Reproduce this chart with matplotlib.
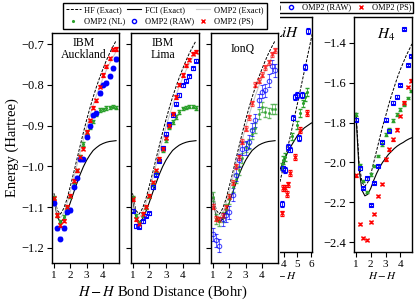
import matplotlib
matplotlib.use('Agg')
import matplotlib.pyplot as plt
from matplotlib.patches import Rectangle
from matplotlib.lines import Line2D

plt.rcParams['font.family'] = ['Liberation Serif']
plt.rcParams['mathtext.fontset'] = 'stix'

# ---- H2 (left three panels) ----
h2_r = [1.0, 1.2, 1.4, 1.6, 1.8, 2.0, 2.2, 2.4, 2.6, 2.8,
        3.0, 3.2, 3.4, 3.6, 3.8, 4.0, 4.2, 4.4, 4.6, 4.8]
h2_hf = [-1.066, -1.108, -1.117, -1.103, -1.080, -1.049, -1.017, -0.983, -0.950, -0.917,
         -0.886, -0.857, -0.830, -0.805, -0.782, -0.761, -0.741, -0.723, -0.707, -0.692]
h2_fci = [-1.078, -1.124, -1.137, -1.129, -1.111, -1.089, -1.065, -1.042, -1.020, -1.001,
          -0.985, -0.972, -0.961, -0.954, -0.948, -0.944, -0.941, -0.939, -0.938, -0.937]
h2_omp2 = [-1.072, -1.116, -1.126, -1.114, -1.092, -1.062, -1.031, -0.998, -0.966, -0.934,
           -0.904, -0.876, -0.850, -0.826, -0.804, -0.784, -0.765, -0.748, -0.733, -0.719]

auck_nl = [-1.077, -1.120, -1.136, -1.124, -1.100, -1.074, -1.045, -1.010, -0.975, -0.945,
           -0.918, -0.904, -0.890, -0.872, -0.862, -0.860, -0.857, -0.855, -0.854, -0.856]
auck_raw = [-1.090, -1.152, -1.177, -1.151, -1.111, -1.107, -1.050, -1.028, -0.983, -0.983,
            -0.927, -0.900, -0.875, -0.870, -0.820, -0.800, -0.795, -0.779, -0.760, -0.737]
auck_ps = [-1.078, -1.119, -1.144, -1.133, -1.099, -1.072, -1.035, -1.010, -0.977, -0.957,
           -0.916, -0.887, -0.856, -0.838, -0.805, -0.776, -0.755, -0.735, -0.713, -0.712]

lima_nl = [-1.077, -1.122, -1.137, -1.119, -1.100, -1.074, -1.045, -1.015, -0.985, -0.961,
           -0.936, -0.905, -0.891, -0.879, -0.867, -0.858, -0.856, -0.854, -0.854, -0.857]
lima_raw = [-1.109, -1.146, -1.148, -1.135, -1.121, -1.115, -1.051, -1.020, -0.986, -0.955,
            -0.920, -0.897, -0.875, -0.846, -0.825, -0.801, -0.790, -0.779, -0.760, -0.741]
lima_ps = [-1.080, -1.129, -1.141, -1.117, -1.099, -1.072, -1.039, -1.010, -0.982, -0.957,
           -0.930, -0.900, -0.871, -0.830, -0.800, -0.776, -0.752, -0.738, -0.724, -0.719]

ionq_nl = [-1.074, -1.130, -1.135, -1.125, -1.105, -1.080, -1.050, -1.030, -1.010, -0.980,
           -0.953, -0.945, -0.920, -0.905, -0.871, -0.855, -0.867, -0.870, -0.860, -0.860]
ionq_raw = [-1.166, -1.181, -1.195, -1.130, -1.120, -1.113, -1.070, -1.020, -0.985, -0.957,
            -0.955, -0.940, -0.910, -0.887, -0.838, -0.817, -0.813, -0.790, -0.755, -0.764]
ionq_ps = [-1.099, -1.128, -1.130, -1.121, -1.100, -1.075, -1.040, -1.000, -0.978, -0.940,
           -0.908, -0.880, -0.845, -0.800, -0.790, -0.775, -0.757, -0.745, -0.725, -0.715]
ionq_err = [0.006, 0.012, 0.016]  # PS, NL, RAW

# ---- LiH (partly hidden) ----
lih_r = [3.5, 4.0, 4.5, 5.0, 5.5, 6.0, 6.5]
lih_hf = [-7.889, -7.857, -7.825, -7.792, -7.758, -7.724, -7.690]
lih_fci = [-7.870, -7.852, -7.838, -7.826, -7.818, -7.813, -7.810]
lih_raw_r = [3.83, 3.95, 4.07, 4.32, 4.44, 4.69, 4.81, 4.94, 5.13, 5.31, 5.56, 5.80]
lih_raw = [-7.899, -7.861, -7.863, -7.838, -7.841, -7.807, -7.785, -7.783, -7.829, -7.783, -7.753, -7.715]
lih_nl_r = [3.83, 3.95, 4.07, 4.57, 4.94, 5.19, 5.43, 5.56, 5.68]
lih_nl = [-7.859, -7.852, -7.849, -7.827, -7.815, -7.802, -7.792, -7.785, -7.780]
lih_ps_r = [3.83, 3.95, 4.07, 4.20, 4.32, 4.44, 4.81, 5.19, 5.68]
lih_ps = [-7.909, -7.882, -7.882, -7.888, -7.878, -7.866, -7.849, -7.820, -7.802]

# ---- H4 ----
h4_r = [1.0, 1.2, 1.4, 1.6, 1.8, 2.0, 2.2, 2.4, 2.6, 2.8,
        3.0, 3.2, 3.4, 3.6, 3.8, 4.0, 4.2, 4.4, 4.6, 4.8]
h4_hf = [-1.75, -2.00, -2.10, -2.12, -2.10, -2.06, -2.00, -1.94, -1.88, -1.82,
         -1.77, -1.715, -1.665, -1.62, -1.575, -1.535, -1.50, -1.465, -1.435, -1.405]
h4_fci = [-1.77, -2.03, -2.14, -2.168, -2.16, -2.13, -2.09, -2.055, -2.025, -2.00,
          -1.98, -1.96, -1.945, -1.93, -1.918, -1.908, -1.90, -1.89, -1.882, -1.876]
h4_pts_r = [1.0, 1.25, 1.5, 1.75, 2.0, 2.25, 2.5, 2.75, 3.0, 3.25, 3.5, 3.75, 4.0, 4.25, 4.5, 4.75]
h4_nl = [-1.76, -2.015, -2.093, -2.15, -2.06, -2.018, -1.968, -1.91, -1.86, -1.835,
         -1.79, -1.76, -1.735, -1.71, -1.677, -1.643]
h4_raw = [-1.785, -2.03, -2.13, -2.08, -2.215, -2.105, -2.018, -1.90, -1.785, -1.843,
          -1.70, -1.67, -1.61, -1.331, -1.51, -1.465]
h4_ps = [-2.065, -2.31, -2.38, -2.39, -2.30, -2.26, -2.168, -2.11, -1.985, -1.935,
         -1.885, -1.835, -1.768, -1.70, -1.62, -1.589]

RED = '#ff0000'
BLUE = '#0000ff'
GREEN = '#2ca02c'
W, H = 415, 304


def fpos(x0, x1, y0, y1):
    return [x0 / W, 1 - y1 / H, (x1 - x0) / W, (y1 - y0) / H]


def style(ax, ylab=True, xsize=8, ysize=9):
    ax.tick_params(direction='out', length=3.5, width=0.8, top=False, right=False)
    ax.tick_params(axis='x', labelsize=xsize, pad=2)
    ax.tick_params(axis='y', labelsize=ysize, pad=2, labelleft=ylab)
    for s in ax.spines.values():
        s.set_linewidth(1.0)


def curves(ax, r, hf, fci, omp=None):
    ax.plot(r, hf, color='black', ls=(0, (3, 1.5)), lw=0.7, zorder=1)
    ax.plot(r, fci, color='black', ls='-', lw=0.8, zorder=1)
    if omp is not None:
        ax.plot(r, omp, color='#c8c8c8', ls='-', lw=0.8, zorder=1)


fig = plt.figure(figsize=(4.15, 3.04), dpi=100)

# right-hand figure (partly covered)
ax_lih = fig.add_axes(fpos(254, 312, 17, 252), zorder=0)
ax_h4 = fig.add_axes(fpos(354, 412, 17, 252), zorder=0)

curves(ax_lih, lih_r, lih_hf, lih_fci)
ax_lih.errorbar(lih_nl_r, lih_nl, yerr=0.004, fmt='.', color=GREEN, ms=2.5, capsize=1.5, elinewidth=0.6)
ax_lih.errorbar(lih_raw_r, lih_raw, yerr=0.003, fmt='s', color=BLUE, mfc='none', ms=3, mew=0.8, capsize=1.2, elinewidth=0.6)
ax_lih.errorbar(lih_ps_r, lih_ps, yerr=0.003, fmt='x', color=RED, ms=3, mew=0.9, capsize=1.2, elinewidth=0.6)
ax_lih.set_xlim(1.8, 6.07)
ax_lih.set_ylim(-7.95, -7.70)
ax_lih.set_xticks([2, 3, 4, 5, 6])
ax_lih.set_xlabel('$H-H$', fontsize=8, labelpad=1)
ax_lih.text(0.55, 0.96, '$LiH$', transform=ax_lih.transAxes, ha='center', va='top', fontsize=11)
style(ax_lih, xsize=8)

curves(ax_h4, h4_r, h4_hf, h4_fci)
ax_h4.errorbar(h4_pts_r, h4_nl, yerr=0.006, fmt='.', color=GREEN, ms=2.5, capsize=1.5, elinewidth=0.6)
ax_h4.errorbar(h4_pts_r, h4_raw, yerr=0.006, fmt='s', color=BLUE, mfc='none', ms=3, mew=0.8, capsize=1.2, elinewidth=0.6)
ax_h4.errorbar(h4_pts_r, h4_ps, yerr=0.006, fmt='x', color=RED, ms=3, mew=0.9, capsize=1.2, elinewidth=0.6)
ax_h4.set_xlim(0.86, 4.8)
ax_h4.set_ylim(-2.45, -1.27)
ax_h4.set_xticks([1, 2, 3, 4])
ax_h4.set_yticks([-2.4, -2.2, -2.0, -1.8, -1.6, -1.4])
ax_h4.set_xlabel('$H-H$', fontsize=8, labelpad=1)
ax_h4.text(0.55, 0.96, '$H_4$', transform=ax_h4.transAxes, ha='center', va='top', fontsize=11)
style(ax_h4, xsize=8, ysize=9)

leg_handles = [
    Line2D([], [], color='black', ls=(0, (3, 1.5)), lw=0.7),
    Line2D([], [], color='black', lw=0.8),
    Line2D([], [], color='#c8c8c8', lw=0.8),
    Line2D([], [], color=GREEN, marker='.', ls='none', ms=2.5),
    Line2D([], [], color=BLUE, marker='o', mfc='none', ls='none', ms=3),
    Line2D([], [], color=RED, marker='x', ls='none', ms=3),
]
leg_labels = ['HF (Exact)', 'FCI (Exact)', 'OMP2 (Exact)', 'OMP2 (NL)', 'OMP2 (RAW)', 'OMP2 (PS)']
# only the tail of this legend shows from under the left figure
ax_h4.legend(leg_handles[3:], leg_labels[3:], ncol=3, loc='upper right',
             bbox_to_anchor=(413 / W, 1 - 2 / H), bbox_transform=fig.transFigure,
             fontsize=6, frameon=True, fancybox=False, edgecolor='black', framealpha=1,
             borderaxespad=0, handlelength=1.6, columnspacing=0.4, handletextpad=0.5,
             borderpad=0.2)

# white cover for the left-hand figure
fig.patches.append(Rectangle((0, 0), 279.5 / W, 1, transform=fig.transFigure,
                             facecolor='white', edgecolor='none', zorder=1))

panels = [
    ('IBM\nAuckland', (52, 119), auck_nl, auck_raw, auck_ps, 'o', 'full', [0.004, 0.004, 0.004], 1.0),
    ('IBM\nLima', (130.5, 199), lima_nl, lima_raw, lima_ps, 's', 'none', [0.004, 0.004, 0.004], 1.0),
    ('IonQ', (211, 278), ionq_nl, ionq_raw, ionq_ps, 'o', 'none', [ionq_err[1], ionq_err[2], ionq_err[0]], 0.7),
]
left_axes = []
for i, (title, (x0, x1), nl, raw, ps, mk, fill, errs, alpha) in enumerate(panels):
    ax = fig.add_axes(fpos(x0, x1, 33, 263), zorder=2)
    left_axes.append(ax)
    curves(ax, h2_r, h2_hf, h2_fci, h2_omp2)
    ax.errorbar(h2_r, nl, yerr=errs[0], fmt='.', color=GREEN, ms=2.5, capsize=1.5,
                elinewidth=0.6, alpha=alpha)
    if fill == 'full':
        ax.errorbar(h2_r, raw, yerr=errs[1], fmt=mk, color=BLUE, ms=3.2, capsize=1.2,
                    elinewidth=0.6, alpha=alpha)
    else:
        ax.errorbar(h2_r, raw, yerr=errs[1], fmt=mk, color=BLUE, mfc='none', ms=3.2, mew=0.8,
                    capsize=1.2, elinewidth=0.6, alpha=alpha)
    ax.errorbar(h2_r, ps, yerr=errs[2], fmt='x', color=RED, ms=3, mew=0.9, capsize=1.2,
                elinewidth=0.6, alpha=alpha)
    ax.set_xlim(0.88, 4.98)
    ax.set_ylim(-1.237, -0.673)
    ax.set_xticks([1, 2, 3, 4])
    ax.set_yticks([-1.2, -1.1, -1.0, -0.9, -0.8, -0.7])
    ax.text(0.47, 0.93, title, transform=ax.transAxes, ha='center', va='center',
            fontsize=8.5, linespacing=1.05)
    style(ax, ylab=(i == 0), xsize=8, ysize=9)

left_axes[0].set_ylabel('Energy (Hartree)', fontsize=10.5, labelpad=2)
fig.text(163 / W, 1 - 292 / H, '$H-H$ Bond Distance (Bohr)', ha='center', va='center', fontsize=10.5)

left_handles = [leg_handles[0], leg_handles[3], leg_handles[1], leg_handles[4], leg_handles[2], leg_handles[5]]
left_labels = [leg_labels[0], leg_labels[3], leg_labels[1], leg_labels[4], leg_labels[2], leg_labels[5]]
lg = fig.legend(left_handles, left_labels, ncol=3, loc='upper left',
                bbox_to_anchor=(63 / W, 1 - 3 / H), fontsize=6, frameon=True, fancybox=False,
                edgecolor='black', framealpha=1, borderaxespad=0, handlelength=1.7,
                columnspacing=0.2, handletextpad=0.45, borderpad=0.4, labelspacing=0.4)
lg.set_zorder(3)

fig.savefig('out.png', dpi=100)
